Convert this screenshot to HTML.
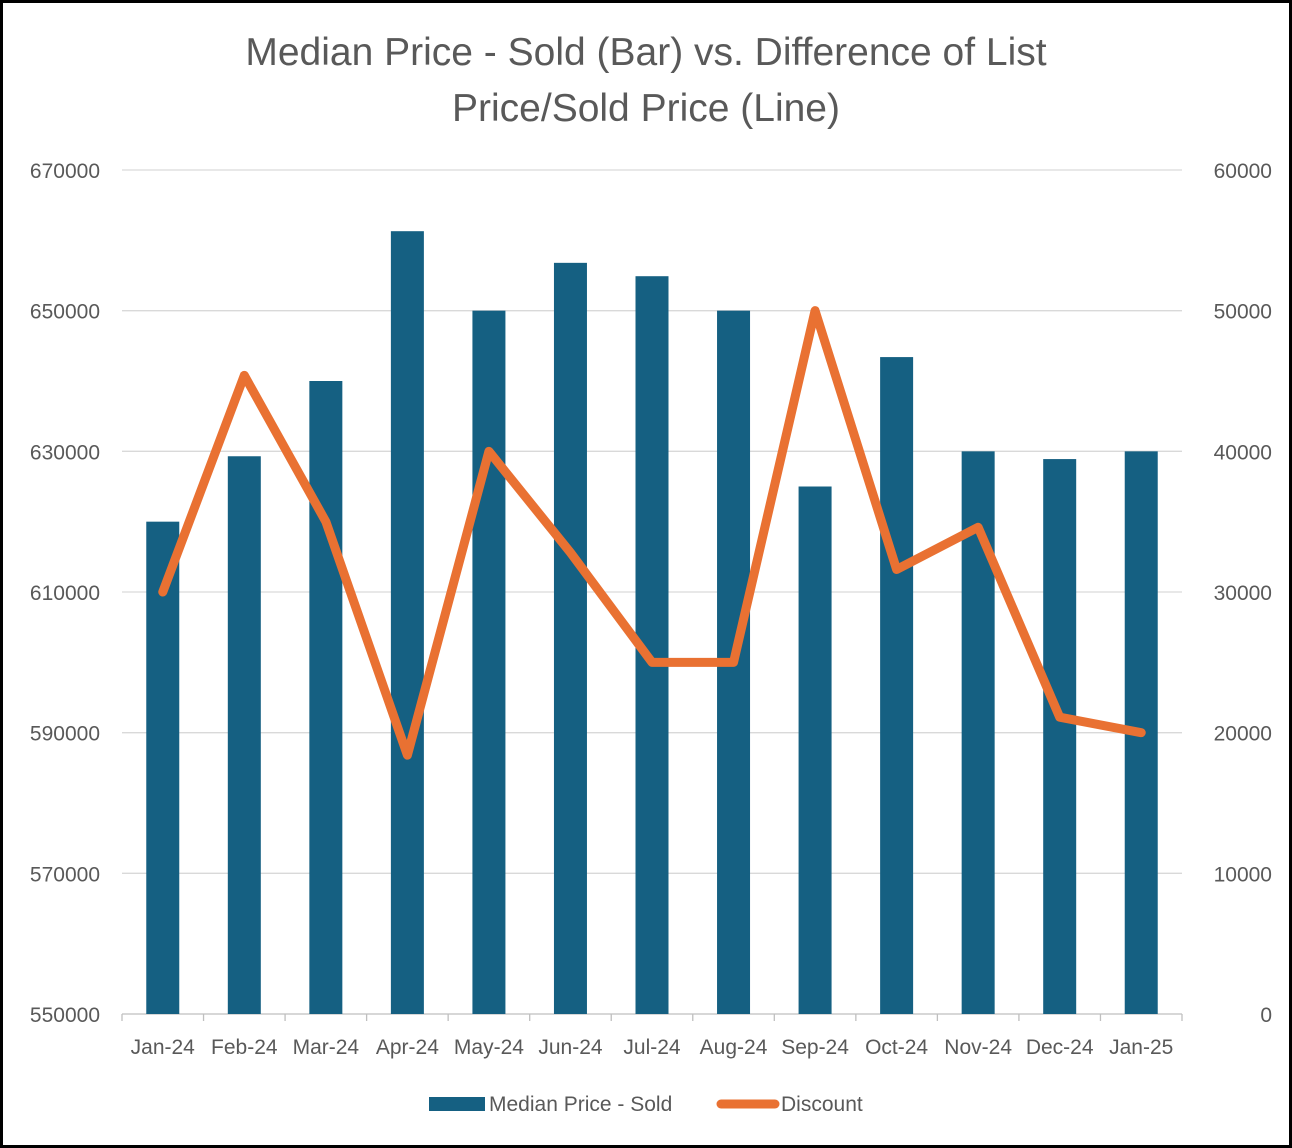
<!DOCTYPE html>
<html><head><meta charset="utf-8"><style>
html,body{margin:0;padding:0;background:#fff}
#wrap{position:relative;width:1292px;height:1148px;box-sizing:border-box;border:3px solid #000;background:#fff}
svg{position:absolute;left:-3px;top:-3px}
text{font-family:"Liberation Sans",sans-serif;fill:#595959}
</style></head><body>
<div id="wrap">
<svg id="chart" width="1292" height="1148">
<text x="646" y="65" text-anchor="middle" font-size="39">Median Price - Sold (Bar) vs. Difference of List</text>
<text x="646" y="121" text-anchor="middle" font-size="39">Price/Sold Price (Line)</text>
</svg>
</div>
<script>
const categories=["Jan-24","Feb-24","Mar-24","Apr-24","May-24","Jun-24","Jul-24","Aug-24","Sep-24","Oct-24","Nov-24","Dec-24","Jan-25"];
const medianPrice=[620000,629300,640000,661300,650000,656800,654900,650000,625000,643400,630000,628900,630000];
const discount=[30000,45400,35000,18400,40000,32800,25000,25000,50000,31600,34600,21100,20000];
const leftTicks=[550000,570000,590000,610000,630000,650000,670000];
const rightTicks=[0,10000,20000,30000,40000,50000,60000];
const NS="http://www.w3.org/2000/svg";
const svg=document.getElementById('chart');
const X0=122,X1=1182,Y0=1014,Y1=170;
const band=(X1-X0)/categories.length;
const xc=i=>X0+band*(i+0.5);
const yL=v=>Y0-(v-550000)/120000*(Y0-Y1);
const yR=v=>Y0-v/60000*(Y0-Y1);
function mk(t,a){const e=document.createElementNS(NS,t);for(const k in a)e.setAttribute(k,a[k]);svg.appendChild(e);return e;}
leftTicks.forEach((v,i)=>{
 const g=mk('line',{x1:X0,x2:X1,y1:yL(v),y2:yL(v),stroke:i==0?'#bfbfbf':'#d9d9d9','stroke-width':1.3});
 
 
 const t=mk('text',{x:100,y:yL(v)+8,'text-anchor':'end','font-size':21});
 t.textContent=v;
 
 
});
rightTicks.forEach(v=>{
 const t=mk('text',{x:1272,y:yR(v)+8,'text-anchor':'end','font-size':21});
 t.textContent=v;
 
 
});
for(let i=0;i<=categories.length;i++){
 const tk=mk('line',{x1:X0+band*i,x2:X0+band*i,y1:Y0,y2:Y0+7,stroke:'#bfbfbf','stroke-width':1.3});
 
 
}
categories.forEach((c,i)=>{
 const b=mk('rect',{x:xc(i)-16.5,y:yL(medianPrice[i]),width:33,height:Y0-yL(medianPrice[i]),fill:'#156082'});
 
 
 const t=mk('text',{x:xc(i),y:1054,'text-anchor':'middle','font-size':21});
 t.textContent=c;
 
 
});
const pl=mk('polyline',{points:discount.map((v,i)=>xc(i)+','+yR(v)).join(' '),fill:'none',stroke:'#E97132','stroke-width':9,'stroke-linejoin':'round','stroke-linecap':'round'});


const l1=mk('rect',{x:429,y:1097,width:56,height:14,fill:'#156082'});


const lt1=mk('text',{x:489,y:1111,'font-size':21});
lt1.textContent='Median Price - Sold';


const l2=mk('line',{x1:721,x2:775,y1:1104,y2:1104,stroke:'#E97132','stroke-width':9,'stroke-linecap':'round'});


const lt2=mk('text',{x:781,y:1111,'font-size':21});
lt2.textContent='Discount';


</script>
</body></html>
